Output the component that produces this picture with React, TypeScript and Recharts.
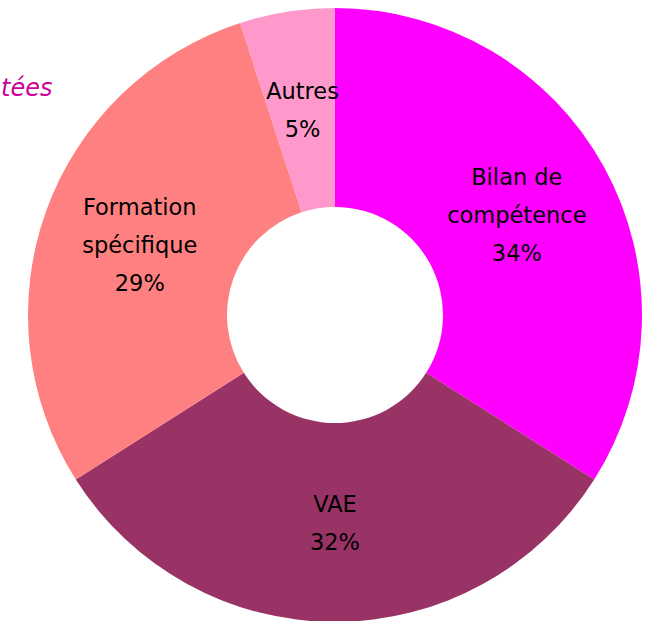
import { PieChart, Pie, Cell } from 'recharts';

// catégories (ordre horaire depuis le haut)
const categories = ['Bilan de\ncompétence', 'VAE', 'Formation\nspécifique', 'Autres'];
const percentages = [34, 32, 29, 5];
const colors = ['#FF00FF', '#993366', '#FF8080', '#FF99CC'];

const data = categories.map((name, i) => ({ name, value: percentages[i] }));

const RADIAN = Math.PI / 180;

const renderLabel = (props: any) => {
  const { cx, cy, midAngle, innerRadius, outerRadius, name, value } = props;
  const r = (innerRadius + outerRadius) / 2;
  const x = cx + r * Math.cos(-midAngle * RADIAN);
  const y = cy + r * Math.sin(-midAngle * RADIAN);
  const lines = [...String(name).split('\n'), `${value}%`];
  const lineHeight = 38;
  const top = y - ((lines.length - 1) * lineHeight) / 2;
  return (
    <text
      x={x}
      y={top}
      textAnchor='middle'
      dominantBaseline='central'
      fill='#000'
      style={{ fontSize: 22.5, fontFamily: 'DejaVu Sans, Verdana, sans-serif' }}
    >
      {lines.map((line, i) => (
        <tspan key={i} x={x} y={top + i * lineHeight}>
          {line}
        </tspan>
      ))}
    </text>
  );
};

const App = () => {
  return (
    <div style={{ position: 'absolute', left: 0, top: 0, width: 645, height: 621, overflow: 'hidden', background: '#fff' }}>
      <PieChart width={645} height={621} margin={{ top: 0, right: 0, bottom: 0, left: 0 }}>
        {/* titre coupé */}
        <text
          x={1}
          y={96}
          textAnchor='start'
          fill='#CC0099'
          style={{ fontSize: 24, fontStyle: 'italic', fontFamily: 'DejaVu Sans, Verdana, sans-serif' }}
        >
          tées
        </text>
        <Pie
          data={data}
          dataKey='value'
          nameKey='name'
          cx={335}
          cy={315}
          innerRadius={108}
          outerRadius={307}
          startAngle={90}
          endAngle={-270}
          stroke='none'
          labelLine={false}
          label={renderLabel}
          isAnimationActive={false}
        >
          {data.map((d, i) => (
            <Cell key={d.name} fill={colors[i]} />
          ))}
        </Pie>
      </PieChart>
    </div>
  );
};

export default App;
